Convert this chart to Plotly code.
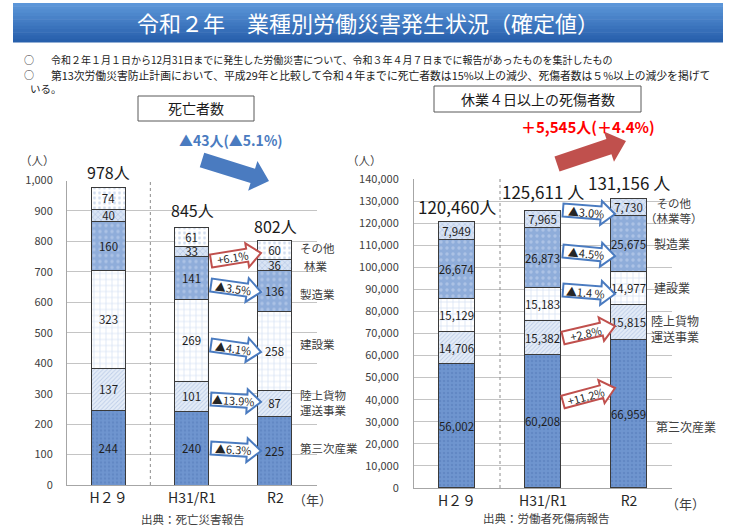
import math
import plotly.graph_objects as go

W, H = 736, 529
FONT = "Noto Sans CJK JP"

# ---------------- data ----------------
years = ["H２９", "H31/R1", "R2"]

# 死亡者数
death_tertiary = [244, 240, 225]        # 第三次産業
death_transport = [137, 101, 87]        # 陸上貨物運送事業
death_construction = [323, 269, 258]    # 建設業
death_manufacturing = [160, 141, 136]   # 製造業
death_forestry = [40, 33, 36]           # 林業
death_other = [74, 61, 60]              # その他
death_total_labels = ["978人", "845人", "802人"]

# 休業4日以上の死傷者数
inj_tertiary = [56002, 60208, 66959]
inj_transport = [14706, 15382, 15815]
inj_construction = [15129, 15183, 14977]
inj_manufacturing = [26674, 26873, 25675]
inj_other = [7949, 7965, 7730]
inj_total_labels = ["120,460人", "125,611 人", "131,156 人"]

left_changes = ["+6.1%", "▲3.5%", "▲4.1%", "▲13.9%", "▲6.3%"]
right_changes = ["▲3.0%", "▲4.5%", "▲1.4 %", "+2.8%", "+11.2%"]

# ---------------- styles ----------------
ST = {
    "tertiary": dict(bg="#6f95cf", fg="#5479b8", shape=".", size=4, sol=0.3),
    "transport": dict(bg="#e4ecf7", fg="#97b0da", shape="/", size=3, sol=0.3),
    "construction": dict(bg="#ffffff", fg="#a9c0e6", shape="+", size=6, sol=0.22),
    "manufacturing": dict(bg="#8fadda", fg="#c9d8f0", shape=".", size=6, sol=0.25),
    "forestry": dict(bg="#d9e4f4", fg="#8ca7d5", shape="x", size=4, sol=0.3),
    "other": dict(bg="#ffffff", fg="#a3b9df", shape=".", size=5, sol=0.25),
}

fig = go.Figure()

def add_bar(vals, style, xa, ya, fmt):
    s = ST[style]
    fig.add_trace(go.Bar(
        x=[0, 1, 2], y=vals, width=0.41, xaxis=xa, yaxis=ya,
        marker=dict(color=s["bg"], line=dict(color="#3a3a3a", width=1),
                    pattern=dict(shape=s["shape"], fgcolor=s["fg"], size=s["size"], solidity=s["sol"])),
        texttemplate=fmt, textposition="inside", insidetextanchor="middle", textangle=0,
        textfont=dict(family=FONT, size=11.5, color="#1f1f1f"),
        showlegend=False, hoverinfo="skip", cliponaxis=False))

for vals, st in [(death_tertiary, "tertiary"), (death_transport, "transport"),
                 (death_construction, "construction"), (death_manufacturing, "manufacturing"),
                 (death_forestry, "forestry"), (death_other, "other")]:
    add_bar(vals, st, "x", "y", "%{y}")

for vals, st in [(inj_tertiary, "tertiary"), (inj_transport, "transport"),
                 (inj_construction, "construction"), (inj_manufacturing, "manufacturing"),
                 (inj_other, "forestry")]:
    add_bar(vals, st, "x2", "y2", "%{y:,}")

death_totals = [sum(v) for v in zip(death_tertiary, death_transport, death_construction,
                                    death_manufacturing, death_forestry, death_other)]
inj_totals = [sum(v) for v in zip(inj_tertiary, inj_transport, inj_construction,
                                  inj_manufacturing, inj_other)]

def px(x, y):
    return x / W, 1 - y / H

ann = []
shapes = []

def text(x, y, t, size=11, color="#404040", xanchor="center", bold=False, angle=0):
    X, Y = px(x, y)
    if bold:
        t = "<b>" + t + "</b>"
    ann.append(dict(x=X, y=Y, xref="paper", yref="paper", text=t, showarrow=False,
                    xanchor=xanchor, yanchor="middle", textangle=angle,
                    font=dict(family=FONT, size=size, color=color)))

# totals above bars
for i, (t, v) in enumerate(zip(death_total_labels, death_totals)):
    ann.append(dict(x=i, y=v, xref="x", yref="y", text=t, showarrow=False, yanchor="bottom",
                    yshift=[1, 4, 1][i], font=dict(family=FONT, size=16, color="#1a1a1a")))
for i, (t, v) in enumerate(zip(inj_total_labels, inj_totals)):
    ann.append(dict(x=i, y=v, xref="x2", yref="y2", text=t, showarrow=False, yanchor="bottom",
                    yshift=[1, 5, 2][i], font=dict(family=FONT, size=17, color="#1a1a1a")))

# banner (gradient imitation)
top_c = (92, 150, 217)
bot_c = (40, 96, 172)
n = 12
y0b, y1b = 3, 42
for k in range(n):
    f = k / (n - 1)
    c = tuple(int(top_c[j] + (bot_c[j] - top_c[j]) * f) for j in range(3))
    ya = y0b + (y1b - y0b) * k / n
    yb = y0b + (y1b - y0b) * (k + 1) / n + 0.6
    X0, Y0 = px(13, ya)
    X1, Y1 = px(723, yb)
    shapes.append(dict(type="rect", xref="paper", yref="paper", x0=X0, x1=X1, y0=Y1, y1=Y0,
                       fillcolor="rgb(%d,%d,%d)" % c, line=dict(width=0), layer="below"))
text(368, 22, "令和２年　業種別労働災害発生状況（確定値）", size=22, color="#ffffff")

# bullets
text(22, 60, "○", size=10, color="#1a1a1a", xanchor="left")
text(49, 60, "令和２年１月１日から12月31日までに発生した労働災害について、令和３年４月７日までに報告があったものを集計したもの",
     size=10, color="#1a1a1a", xanchor="left")
text(22, 74.5, "○", size=10, color="#1a1a1a", xanchor="left")
text(49, 74.5, "第13次労働災害防止計画において、平成29年と比較して令和４年までに死亡者数は15%以上の減少、死傷者数は５%以上の減少を掲げて",
     size=10.8, color="#1a1a1a", xanchor="left")
text(28, 88, "いる。", size=10.5, color="#1a1a1a", xanchor="left")

# header boxes
for (x0, y0, x1, y1, t) in [(138, 96, 254, 121, "死亡者数"), (434, 86, 641, 112, "休業４日以上の死傷者数")]:
    X0, Y0 = px(x0, y0)
    X1, Y1 = px(x1, y1)
    shapes.append(dict(type="rect", xref="paper", yref="paper", x0=X0, x1=X1, y0=Y1, y1=Y0,
                       line=dict(color="#595959", width=1), fillcolor="white"))
    text((x0 + x1) / 2, (y0 + y1) / 2, t, size=14, color="#1a1a1a")

text(231, 140, "▲43人(▲5.1%)", size=14, color="#4a7bc0", bold=True)
text(588, 126, "＋5,545人(＋4.4%)", size=15, color="#ff0000", bold=True)

def arrow_path(x0, y0, x1, y1, bw, hw, hl):
    dx, dy = x1 - x0, y1 - y0
    L = math.hypot(dx, dy)
    ux, uy = dx / L, dy / L
    nx, ny = -uy, ux
    bx, by = x1 - ux * hl, y1 - uy * hl
    pts = [(x0 + nx * bw / 2, y0 + ny * bw / 2), (bx + nx * bw / 2, by + ny * bw / 2),
           (bx + nx * hw / 2, by + ny * hw / 2), (x1, y1),
           (bx - nx * hw / 2, by - ny * hw / 2), (bx - nx * bw / 2, by - ny * bw / 2),
           (x0 - nx * bw / 2, y0 - ny * bw / 2)]
    return "M " + " L ".join("%.5f,%.5f" % px(a, b) for a, b in pts) + " Z"

# big arrows
shapes.append(dict(type="path", xref="paper", yref="paper",
                   path=arrow_path(202, 160, 269, 181, 15, 31, 17),
                   fillcolor="#4a7bc0", line=dict(width=0)))
shapes.append(dict(type="path", xref="paper", yref="paper",
                   path=arrow_path(557, 164, 626, 141, 16, 32, 18),
                   fillcolor="#c0504d", line=dict(width=0)))

BLUE_O = "#4a7bc0"
RED_O = "#c0504d"
left_arrows = [((211, 261), (261, 253), RED_O), ((211, 285), (261, 292), BLUE_O),
               ((211, 345), (261, 352), BLUE_O), ((211, 399), (261, 402), BLUE_O),
               ((211, 448), (261, 451), BLUE_O)]
right_arrows = [((563, 210), (615, 214), BLUE_O), ((563, 251), (615, 256), BLUE_O),
                ((563, 290), (615, 294), BLUE_O), ((563, 338), (615, 326), RED_O),
                ((563, 402), (615, 388), RED_O)]
for lbl, (p0, p1, col) in list(zip(left_changes, left_arrows)) + list(zip(right_changes, right_arrows)):
    shapes.append(dict(type="path", xref="paper", yref="paper",
                       path=arrow_path(p0[0], p0[1], p1[0], p1[1], 13, 24, 14),
                       fillcolor="white", line=dict(color=col, width=2)))
    ang = math.degrees(math.atan2(p1[1] - p0[1], p1[0] - p0[0]))
    tx = p0[0] + (p1[0] - p0[0]) * 0.44
    ty = p0[1] + (p1[1] - p0[1]) * 0.44
    text(tx, ty, lbl, size=11, color="#262626", angle=ang)

# side category labels
for (x, y, t, xa) in [(298, 248, "その他", "left"), (316, 266, "林業", "center"),
                      (298, 294, "製造業", "left"), (298, 344, "建設業", "left"),
                      (298, 402, "陸上貨物<br>運送事業", "left"),
                      (298, 448, "第三次産業", "left")]:
    text(x, y, t, size=11.5, xanchor=xa)
for (x, y, t, xa) in [(674, 210, "その他<br>（林業等）", "center"),
                      (652, 244, "製造業", "left"), (652, 287, "建設業", "left"),
                      (649, 328, "陸上貨物<br>運送事業", "left"),
                      (654, 426, "第三次産業", "left")]:
    text(x, y, t, size=11.5 if "林業等" in t else 12, xanchor=xa)

text(37, 160, "（人）", size=11.5)
text(364, 160, "（人）", size=11.5)
text(312, 499, "（年）", size=13)
text(685, 503, "（年）", size=13)
text(193, 519, "出典：死亡災害報告", size=11.5)
text(546, 518, "出典：労働者死傷病報告", size=11.5)

# dotted separators
shapes.append(dict(type="line", xref="x", yref="y", x0=0.5, x1=0.5, y0=0, y1=1000,
                   line=dict(color="#8c8c8c", width=1, dash="dot")))
shapes.append(dict(type="line", xref="x2", yref="y2", x0=0.5, x1=0.5, y0=0, y1=140000,
                   line=dict(color="#8c8c8c", width=1, dash="dot")))

axis_common = dict(showgrid=True, gridcolor="#c4c4c4", gridwidth=1, showline=True,
                   linecolor="#a6a6a6", linewidth=1, zeroline=False, ticks="",
                   tickfont=dict(family=FONT, size=11, color="#404040"), fixedrange=True,
                   automargin=False)
xcommon = dict(showgrid=False, showline=True, linecolor="#a6a6a6", linewidth=1, zeroline=False,
               tickvals=[0, 1, 2], ticktext=years, ticks="", range=[-0.5, 2.5],
               tickfont=dict(family=FONT, size=14, color="#262626"), fixedrange=True,
               automargin=False)

fig.update_layout(
    width=W, height=H, margin=dict(l=0, r=0, t=0, b=0, pad=0, autoexpand=False),
    paper_bgcolor="white", plot_bgcolor="white", barmode="stack", bargap=0,
    uniformtext=dict(minsize=11.5, mode="show"),
    xaxis=dict(domain=[67 / W, 317 / W], anchor="y", **xcommon),
    yaxis=dict(domain=[1 - 485 / H, 1 - 180.5 / H], anchor="x", range=[0, 1000], dtick=100,
               tickformat=",", ticklabelstandoff=11, **axis_common),
    xaxis2=dict(domain=[414 / W, 672 / W], anchor="y2", **xcommon),
    yaxis2=dict(domain=[1 - 488 / H, 1 - 179 / H], anchor="x2", range=[0, 140000], dtick=10000,
                tickformat=",", ticklabelstandoff=12, **axis_common),
    annotations=ann, shapes=shapes,
)

fig.write_html("out.html", config={"displayModeBar": False},
               post_script="document.body.style.margin='0';")
